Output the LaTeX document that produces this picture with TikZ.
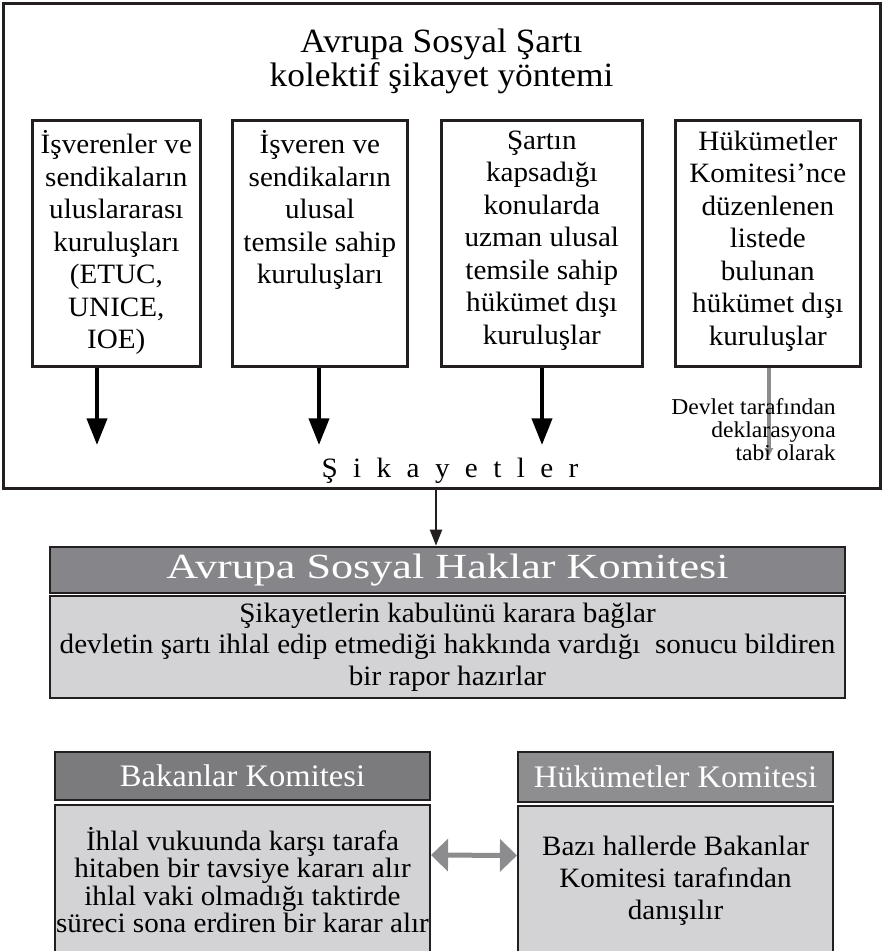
\documentclass[tikz,border=0pt]{standalone}
\usepackage{fontspec}
\setmainfont{Liberation Serif}[FakeStretch=1.04]
\newfontfamily\headfont{Liberation Serif}[FakeStretch=1.25]
\newfontfamily\spacedfont{Liberation Serif}[FakeStretch=1.04,LetterSpace=55]
\usetikzlibrary{arrows.meta,positioning}
\definecolor{linedark}{HTML}{231F20}
\definecolor{headgray}{HTML}{86868A}
\definecolor{headdark}{HTML}{7B7B7D}
\definecolor{headmid}{HTML}{8E8E91}
\definecolor{bodygray}{HTML}{D3D3D5}
\definecolor{arrowgray}{HTML}{8C8C8F}

\begin{document}
\begin{tikzpicture}[x=0.75pt, y=-0.75pt,
  every node/.style={font=\fontsize{21}{24.4}\selectfont},
  orgbox/.style={draw=linedark, line width=2pt, anchor=north west, minimum height=184.5pt, inner sep=0pt},
  orgtext/.style={anchor=north, align=center, inner sep=0pt},
  headbox/.style={draw=linedark, line width=2pt, text=white, inner sep=0pt},
  bodybox/.style={draw=linedark, line width=1.6pt, fill=bodygray, align=center, inner sep=0pt},
  thickarr/.style={line width=3pt, -{Triangle[length=20pt,width=15pt]}}]
  \useasboundingbox (0,0) rectangle (882,951);

  % sikayet yontemi cercevesi
  \node[draw=linedark, line width=2.25pt, minimum width=657.75pt, minimum height=363.75pt, inner sep=0pt] (frame) at (441.5,245.5) {};
  \node[font=\fontsize{25.5}{25.5}\selectfont, align=center] (title) at (441.5,61) {Avrupa Sosyal Şartı\\kolektif şikayet yöntemi};

  \node[orgbox, minimum width=126pt] (org1) at (31,119) {};
  \node[orgbox, minimum width=131.25pt] (org2) at (231,119) {};
  \node[orgbox, minimum width=150.75pt] (org3) at (440,119) {};
  \node[orgbox, minimum width=138.75pt] (org4) at (674,119) {};
  \node[orgtext] (org1txt) at ([yshift=-8.5pt]org1.north) {İşverenler ve\\sendikaların\\uluslararası\\kuruluşları\\(ETUC,\\UNICE,\\IOE)};
  \node[orgtext] (org2txt) at ([yshift=-8.5pt]org2.north) {İşveren ve\\sendikaların\\ulusal\\temsile sahip\\kuruluşları};
  \node[orgtext] (org3txt) at ([yshift=-8.5pt]org3.north) {Şartın\\kapsadığı\\konularda\\uzman ulusal\\temsile sahip\\hükümet dışı\\kuruluşlar};
  \node[orgtext] (org4txt) at ([yshift=-8.5pt]org4.north) {Hükümetler\\Komitesi’nce\\düzenlenen\\listede\\bulunan\\hükümet dışı\\kuruluşlar};

  \coordinate (sk1) at (97,445);
  \coordinate (sk2) at (319,445);
  \coordinate (sk3) at (542,445);
  \coordinate (sk4) at (769,456);
  \draw[thickarr] (org1.south -| sk1) -- (sk1);
  \draw[thickarr] (org2.south -| sk2) -- (sk2);
  \draw[thickarr] (org3.south -| sk3) -- (sk3);
  \draw[line width=3pt, arrowgray, -{Triangle[length=6pt,width=6pt]}] (org4.south -| sk4) -- (sk4);
  \node[font=\fontsize{17}{17.25}\selectfont, align=right, anchor=east, inner sep=0pt] (beyan) at (836,430) {Devlet tarafından\\deklarasyona\\tabi olarak};
  \node[font=\spacedfont\fontsize{21}{24}\selectfont, inner sep=0pt] (sikayet) at (450,471) {Şikayetler};

  \coordinate (sk) at (436,488);
  % komiteler
  \node[headbox, fill=headgray, minimum width=596.25pt, minimum height=34.5pt, font=\headfont\fontsize{26.5}{28}\selectfont] (ashkhead) at (447.5,570) {Avrupa Sosyal Haklar Komitesi};
  \node[bodybox, minimum width=596.25pt, minimum height=76.5pt, font=\fontsize{21}{23.5}\selectfont] (ashkbody) at (447.5,647) {Şikayetlerin kabulünü karara bağlar\\devletin şartı ihlal edip etmediği hakkında vardığı~ sonucu bildiren\\bir rapor hazırlar};
  \draw[line width=1.5pt, linedark, -{Triangle[length=12pt,width=9pt]}] (sk) -- (sk |- ashkhead.north);

  \node[headbox, fill=headdark, minimum width=281.25pt, minimum height=36pt, font=\fontsize{23.5}{26}\selectfont] (bkhead) at (242.5,776) {Bakanlar Komitesi};
  \node[bodybox, minimum width=281.25pt, minimum height=112.5pt, font=\fontsize{21}{20.5}\selectfont] (bkbody) at (242.5,880) {İhlal vukuunda karşı tarafa\\hitaben bir tavsiye kararı alır\\ihlal vaki olmadığı taktirde\\süreci sona erdiren bir karar alır};
  \node[headbox, fill=headmid, minimum width=236.25pt, minimum height=37.5pt, font=\fontsize{23.5}{26}\selectfont] (hkhead) at (675.5,777) {Hükümetler Komitesi};
  \node[bodybox, minimum width=236.25pt, minimum height=111.75pt, font=\fontsize{21}{24}\selectfont] (hkbody) at (675.5,880.5) {Bazı hallerde Bakanlar\\Komitesi tarafından\\danışılır};
  \draw[line width=3.75pt, arrowgray, {Triangle[length=12.75pt,width=24pt]}-{Triangle[length=12.75pt,width=24pt]}] ([yshift=18.75pt]bkbody.east) -- ([yshift=18.75pt]hkbody.west);
\end{tikzpicture}
\end{document}
